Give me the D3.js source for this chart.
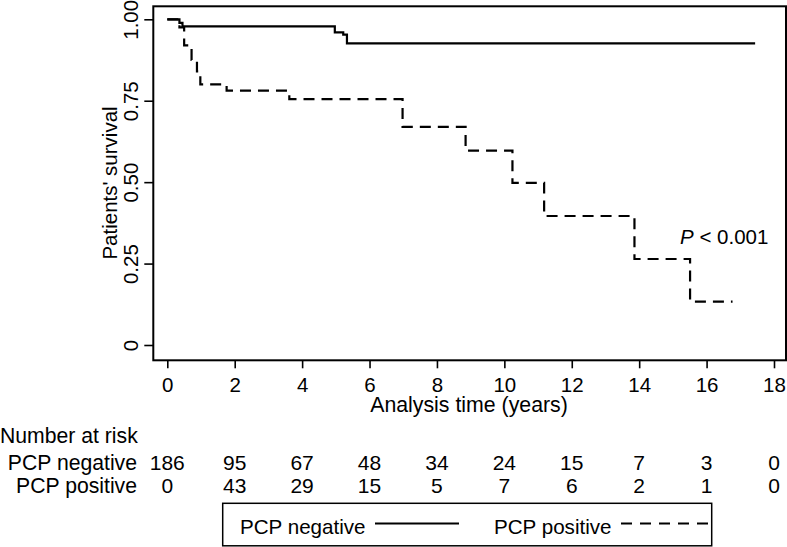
<!DOCTYPE html>
<html><head><meta charset="utf-8">
<script src="https://cdn.jsdelivr.net/npm/d3@7"></script>
<style>
html,body{margin:0;padding:0;background:#fff;}
text{font-family:"Liberation Sans",Arial,Helvetica,sans-serif;fill:#000;}
</style></head>
<body>
<svg id="chart" width="787" height="547"></svg>
<script>
// ---- data ----
const xTicks = [0,2,4,6,8,10,12,14,16,18];
const yTicks = [0,0.25,0.5,0.75,1];
const yTickLabels = ["0","0.25","0.50","0.75","1.00"];
// Kaplan-Meier steps: [time, survival after step]
const negTimes = [0, 0.36, 0.45, 4.97, 5.22, 5.33];
const negSurv  = [1, 0.989, 0.978, 0.96, 0.953, 0.926];
const negEnd = 17.44;
const posTimes = [0, 0.36, 0.5, 0.72, 0.88, 0.98, 1.76, 3.62, 6.98, 8.85, 10.24, 11.18, 13.86, 15.51];
const posSurv  = [1, 0.975, 0.92, 0.875, 0.84, 0.80, 0.781, 0.755, 0.670, 0.597, 0.498, 0.396, 0.264, 0.133];
const posEnd = 16.77;
const riskGroups = ["PCP negative","PCP positive"];
const riskNeg = [186,95,67,48,34,24,15,7,3,0];
const riskPos = [0,43,29,15,5,7,6,2,1,0];
const yTitle = "Patients' survival";
const xTitle = "Analysis time (years)";
const pText = "< 0.001";

const svg = d3.select("#chart");
const x = d3.scaleLinear().domain([0,18]).range([167.3,774]);
const y = d3.scaleLinear().domain([0,1]).range([345,19.3]);

// frame
svg.append("rect").attr("x",153.3).attr("y",6.3).attr("width",786-153.3).attr("height",360.3-6.3)
  .attr("fill","none").attr("stroke","#000").attr("stroke-width",2);

// y axis
const yAxis = d3.axisLeft(y).tickValues(yTicks).tickSize(9).tickFormat((d,i)=>yTickLabels[i]);
const gy = svg.append("g").attr("transform","translate(153.3,0)").call(yAxis);
gy.select(".domain").remove();
gy.selectAll(".tick line").attr("stroke","#000").attr("stroke-width",1.6);
gy.selectAll(".tick text").attr("font-size",20.5).attr("text-anchor","middle")
  .attr("x",0).attr("dy",0).attr("y",0).attr("transform","translate(-15.5,0) rotate(-90)");

// x axis
const xAxis = d3.axisBottom(x).tickValues(xTicks).tickSize(8).tickFormat(d3.format("d"));
const gx = svg.append("g").attr("transform","translate(0,360.3)").call(xAxis);
gx.select(".domain").remove();
gx.selectAll(".tick line").attr("stroke","#000").attr("stroke-width",1.6);
gx.selectAll(".tick text").attr("font-size",20.5).attr("y",31.8).attr("dy",0);

// titles
svg.append("text").attr("transform","translate(117,183) rotate(-90)").attr("text-anchor","middle")
  .attr("font-size",20.5).text(yTitle);
svg.append("text").attr("x",469).attr("y",412).attr("text-anchor","middle").attr("font-size",21.3).text(xTitle);

// curves
function stepPts(times, surv, end){
  const pts = times.map((t,i)=>[t,surv[i]]);
  pts.push([end, surv[surv.length-1]]);
  return pts;
}
const line = d3.line().x(d=>x(d[0])).y(d=>y(d[1])).curve(d3.curveStepAfter);
svg.append("path").datum(stepPts(negTimes,negSurv,negEnd)).attr("d",line)
  .attr("fill","none").attr("stroke","#000").attr("stroke-width",2.2);
svg.append("path").datum(stepPts(posTimes,posSurv,posEnd)).attr("d",line)
  .attr("fill","none").attr("stroke","#000").attr("stroke-width",2.2).attr("stroke-dasharray","11,7");

// p-value
const pt = svg.append("text").attr("x",680).attr("y",244).attr("font-size",20.5);
pt.append("tspan").attr("font-style","italic").text("P");
pt.append("tspan").text(" " + pText);

// number at risk
svg.append("text").attr("x",0).attr("y",443).attr("font-size",21.2).text("Number at risk");
const rows = [riskNeg, riskPos];
const rowY = [470, 493];
rows.forEach((vals,r)=>{
  svg.append("text").attr("x",137).attr("y",rowY[r]).attr("text-anchor","end").attr("font-size",21.2).text(riskGroups[r]);
  svg.append("g").selectAll("text").data(vals).join("text")
    .attr("x",(d,i)=>x(xTicks[i])).attr("y",rowY[r]).attr("text-anchor","middle").attr("font-size",21).text(d=>d);
});

// legend
const lg = svg.append("g");
lg.append("rect").attr("x",222.7).attr("y",503.3).attr("width",711.7-222.7).attr("height",42.5)
  .attr("fill","#fff").attr("stroke","#000").attr("stroke-width",1.5);
lg.append("text").attr("x",240).attr("y",534).attr("font-size",20.6).text(riskGroups[0]);
lg.append("line").attr("x1",375).attr("x2",459).attr("y1",523.5).attr("y2",523.5).attr("stroke","#000").attr("stroke-width",2.2);
lg.append("text").attr("x",494).attr("y",534).attr("font-size",20.6).text(riskGroups[1]);
lg.append("line").attr("x1",621).attr("x2",708).attr("y1",523.5).attr("y2",523.5).attr("stroke","#000").attr("stroke-width",2.2).attr("stroke-dasharray","11,8");
</script>
</body></html>
